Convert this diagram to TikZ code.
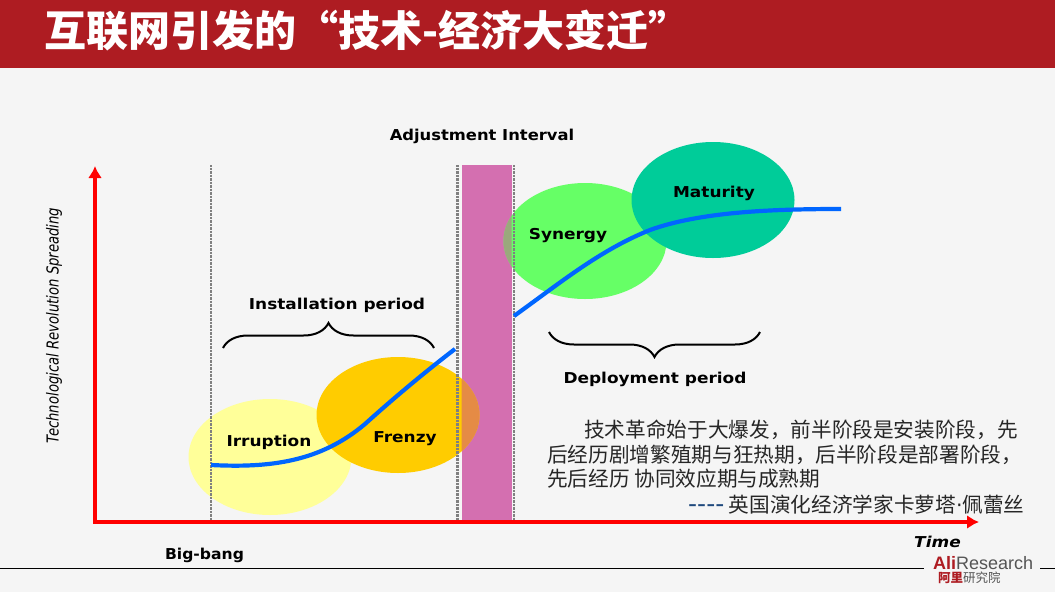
\documentclass[tikz,border=0pt]{standalone}
\usepackage{fontspec}
\usetikzlibrary{decorations.pathreplacing, arrows.meta}
\newfontfamily\cjk{Noto Sans CJK SC}
\newfontfamily\labelfont{DejaVu Sans}
\definecolor{pagebg}{HTML}{F5F5F5}
\definecolor{titlered}{HTML}{AE1C22}
\definecolor{barpink}{HTML}{D46FB0}
\definecolor{irruptcol}{HTML}{FFFF99}
\definecolor{frenzycol}{HTML}{FFCC00}
\definecolor{synergycol}{HTML}{66FF66}
\definecolor{maturitycol}{HTML}{00CC99}
\definecolor{frenzymix}{HTML}{E58B45}
\definecolor{synergymix}{HTML}{9AA87C}
\definecolor{curveblue}{HTML}{0066FF}
\definecolor{dashblue}{HTML}{1F497D}
\definecolor{logogray}{HTML}{555555}
\tikzset{
    phase/.style={font=\labelfont\bfseries\fontsize{15}{17}\selectfont, inner sep=0pt, xscale=1.13, transform shape},
    axisline/.style={red, line width=3.5pt, line cap=rect, -{Latex[length=12pt,width=14pt]}},
    guide/.style={gray, line width=2.6pt, dash pattern=on 0.8pt off 0.6pt},
    curve/.style={curveblue, line width=4.2pt},
    period/.style={black, line width=2pt, decorate},
    bodyline/.style={font=\cjk\fontsize{20.65}{24}\selectfont, text=black!85, anchor=west, inner sep=0pt}
}
\begin{document}
\begin{tikzpicture}[x=1pt, y=-1pt]
    \useasboundingbox (0,0) rectangle (1055,592);
    \def\axisx{95}    % vertical axis
    \def\axisy{522}   % horizontal axis
    \def\bartop{165}

    % Background and title
    \fill[pagebg] (0,0) rectangle (1055,592);
    \fill[titlered] (0,0) rectangle (1055,68);
    \node[font=\cjk\bfseries\fontsize{42}{44}\selectfont, text=white, anchor=west, inner sep=0pt] (title) at (44,31) {互联网引发的“技术-经济大变迁”};

    % ==============================================
    % Adjustment bar and the four phases
    % ==============================================
    \fill[barpink] (461.5,\bartop) rectangle (511.5,\axisy);
    \foreach \cx/\cy/\col in {270/457/irruptcol, 398/415/frenzycol, 585/241/synergycol, 713/200/maturitycol} {
        \fill[\col] (\cx,\cy) ellipse (81.5 and 58);
    }
    % Parts of the ellipses lying on the bar
    \begin{scope}
        \clip (461.5,\bartop) rectangle (511.5,\axisy);
        \fill[frenzymix] (398,415) ellipse (81.5 and 58);
        \fill[synergymix] (585,241) ellipse (81.5 and 58);
    \end{scope}

    % Vertical guides
    \foreach \gx in {211, 457.5, 514} {
        \draw[guide] (\gx,\bartop) -- (\gx,\axisy);
    }

    % Axes
    \coordinate (origin) at (\axisx,\axisy);
    \coordinate (ytip) at (\axisx,166);
    \coordinate (xtip) at (979,\axisy);
    \draw[axisline] (origin) -- (ytip);
    \draw[axisline] (origin) -- (xtip);

    % Curves
    \draw[curve] (211,465) .. controls (270,468) and (320,462) .. (365,424) .. controls (395,397) and (425,372) .. (455,349);
    \draw[curve] (514,316) .. controls (560,283) and (600,250) .. (650,230) .. controls (700,212) and (770,209) .. (841,209);

    % Braces
    \coordinate (instL) at (223,348);
    \coordinate (instR) at (434,348);
    \coordinate (deplL) at (549,332);
    \coordinate (deplR) at (760,332);
    \draw[period, decoration={brace, amplitude=25pt}] (instL) -- (instR);
    \draw[period, decoration={brace, amplitude=25pt, mirror}] (deplL) -- (deplR);

    % ==============================================
    % Labels
    % ==============================================
    \node[phase, xscale=0.965] (adjust) at (482,136.5) {Adjustment Interval};
    \node[phase] (install) at (337,305.5) {Installation period};
    \node[phase] (deploy) at (655,379.5) {Deployment period};
    \node[phase] (irruption) at (269,442.5) {Irruption};
    \node[phase] (frenzy) at (405,438.5) {Frenzy};
    \node[phase] (synergy) at (568,235.5) {Synergy};
    \node[phase] (maturity) at (714,193.5) {Maturity};
    \node[phase, xscale=0.92] (bigbang) at (204.5,555.5) {Big-bang};
    \node[phase, font=\labelfont\bfseries\itshape\fontsize{15}{17}\selectfont] (time) at (937.5,542) {Time};
    \node[font=\labelfont\itshape\fontsize{16.5}{18}\selectfont, rotate=90, xscale=0.8, transform shape, inner sep=0pt] (yname) at (54,325.5) {Technological Revolution Spreading};

    % Commentary
    \node[bodyline] (line1) at (584,430) {技术革命始于大爆发，前半阶段是安装阶段，先};
    \node[bodyline] (line2) at (547,455) {后经历剧增繁殖期与狂热期，后半阶段是部署阶段，};
    \node[bodyline] (line3) at (547,479) {先后经历 协同效应期与成熟期};
    \node[bodyline] (line4) at (688,505) {\textcolor{dashblue}{\labelfont\fontsize{25}{24}\selectfont ----} 英国演化经济学家卡萝塔{\labelfont ·}佩蕾丝};

    % Footer
    \coordinate (footL) at (0,568.5);
    \coordinate (footM) at (924,568.5);
    \coordinate (footN) at (1040,568.5);
    \coordinate (footR) at (1055,568.5);
    \draw[black, line width=0.8pt] (footL) -- (footM) (footN) -- (footR);
    \node[anchor=west, inner sep=0pt, font=\fontspec{Liberation Sans}\fontsize{18}{20}\selectfont, text=logogray] (logo) at (933,563) {\textcolor{titlered}{\bfseries Ali}Research};
    \node[anchor=west, inner sep=0pt, font=\cjk\fontsize{12.5}{14}\selectfont, text=logogray] (logocn) at (938,578) {\textcolor{titlered}{\bfseries 阿里}研究院};
\end{tikzpicture}
\end{document}
